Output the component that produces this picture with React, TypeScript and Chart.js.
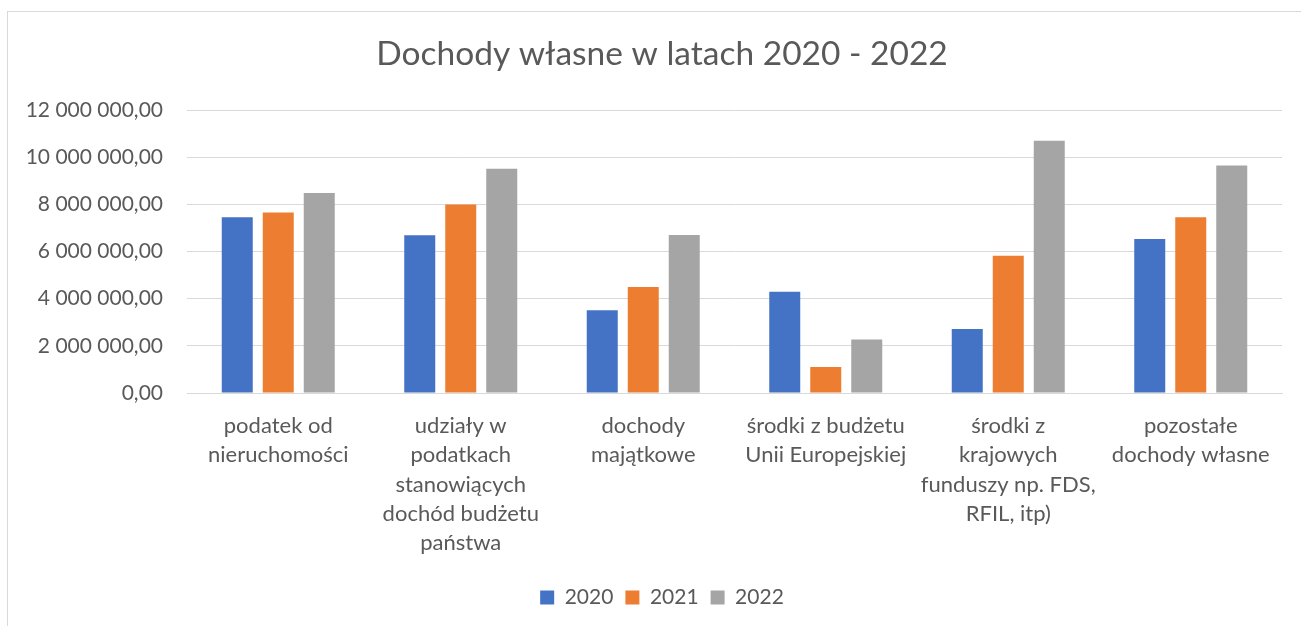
import React, { useEffect, useRef } from "react";
import { Chart, registerables } from "chart.js";

Chart.register(...registerables);

const categories: string[][] = [
  ["podatek od", "nieruchomości"],
  ["udziały w", "podatkach", "stanowiących", "dochód budżetu", "państwa"],
  ["dochody", "majątkowe"],
  ["środki z budżetu", "Unii Europejskiej"],
  ["środki z", "krajowych", "funduszy np. FDS,", "RFIL, itp)"],
  ["pozostałe", "dochody własne"],
];

const values2020 = [7460000, 6690000, 3510000, 4300000, 2720000, 6530000];
const values2021 = [7660000, 8000000, 4500000, 1100000, 5820000, 7460000];
const values2022 = [8490000, 9520000, 6700000, 2270000, 10700000, 9650000];

const seriesLabels = ["2020", "2021", "2022"];
const seriesColors = ["#4472C4", "#ED7D31", "#A5A5A5"];

const titleText = "Dochody własne w latach 2020 - 2022";
const FONT = "Lato, 'Liberation Sans', sans-serif";
const TEXT = "#595959";

function fmt(v: number): string {
  const s = Math.round(v).toString().replace(/\B(?=(\d{3})+(?!\d))/g, " ");
  return s + ",00";
}

export default function App() {
  const ref = useRef<HTMLCanvasElement | null>(null);

  useEffect(() => {
    if (!ref.current) return;
    const PLOT_LEFT = 187;
    const PLOT_BOTTOM = 393;
    const PAD_BOTTOM = 8;
    const RIGHT_SPACER = 42;
    const chart = new Chart(ref.current, {
      type: "bar",
      data: {
        labels: categories,
        datasets: [values2020, values2021, values2022].map((d, i) => ({
          label: seriesLabels[i],
          data: d,
          backgroundColor: seriesColors[i],
          borderWidth: 0,
          categoryPercentage: 0.674,
          barPercentage: 0.756,
          yAxisID: "y",
        })),
      },
      options: {
        animation: false,
        responsive: true,
        maintainAspectRatio: false,
        layout: { padding: { left: 0, right: 16, top: 0, bottom: PAD_BOTTOM } },
        plugins: {
          title: {
            display: true,
            text: titleText,
            color: TEXT,
            font: { family: FONT, size: 33.5, weight: "normal", lineHeight: 1.2 },
            padding: { top: 34, bottom: 36 },
          },
          legend: {
            display: true,
            position: "bottom",
            labels: {
              color: TEXT,
              boxWidth: 14,
              boxHeight: 14,
              padding: 12,
              font: { family: FONT, size: 21 },
            },
          },
          tooltip: { enabled: false },
        },
        scales: {
          x: {
            grid: { display: false, drawTicks: false },
            border: { display: true, color: "#d9d9d9", width: 1 },
            ticks: {
              color: TEXT,
              font: { family: FONT, size: 22, lineHeight: 1.336 },
              padding: 18,
              maxRotation: 0,
              minRotation: 0,
              autoSkip: false,
            },
            afterFit: (scale: any) => {
              const ch = scale.chart;
              const lh = ch.legend ? ch.legend.height : 0;
              scale.height = ch.height - PLOT_BOTTOM - lh - PAD_BOTTOM;
            },
          },
          y: {
            position: "left",
            min: 0,
            max: 12000000,
            grid: { color: "#d9d9d9", lineWidth: 1, drawTicks: false },
            border: { display: false },
            ticks: {
              stepSize: 2000000,
              color: TEXT,
              padding: 24,
              font: { family: FONT, size: 21 },
              callback: (v: any) => fmt(Number(v)),
            },
            afterFit: (scale: any) => {
              scale.width = PLOT_LEFT;
            },
          },
          spacer: {
            position: "right",
            min: 0,
            max: 1,
            grid: { display: false, drawTicks: false },
            border: { display: false },
            ticks: { display: false },
            afterFit: (scale: any) => {
              scale.width = RIGHT_SPACER;
            },
          },
        },
      },
    });
    return () => chart.destroy();
  }, []);

  return (
    <div style={{ position: "fixed", inset: 0, overflow: "hidden", background: "#fff" }}>
      <div
        style={{
          position: "absolute",
          left: 7,
          top: 11,
          width: 1330,
          height: 650,
          border: "1px solid #d9d9d9",
          boxSizing: "border-box",
        }}
      />
      <div style={{ position: "absolute", left: 0, top: 0, width: 1340, height: 626 }}>
        <canvas ref={ref} />
      </div>
    </div>
  );
}
